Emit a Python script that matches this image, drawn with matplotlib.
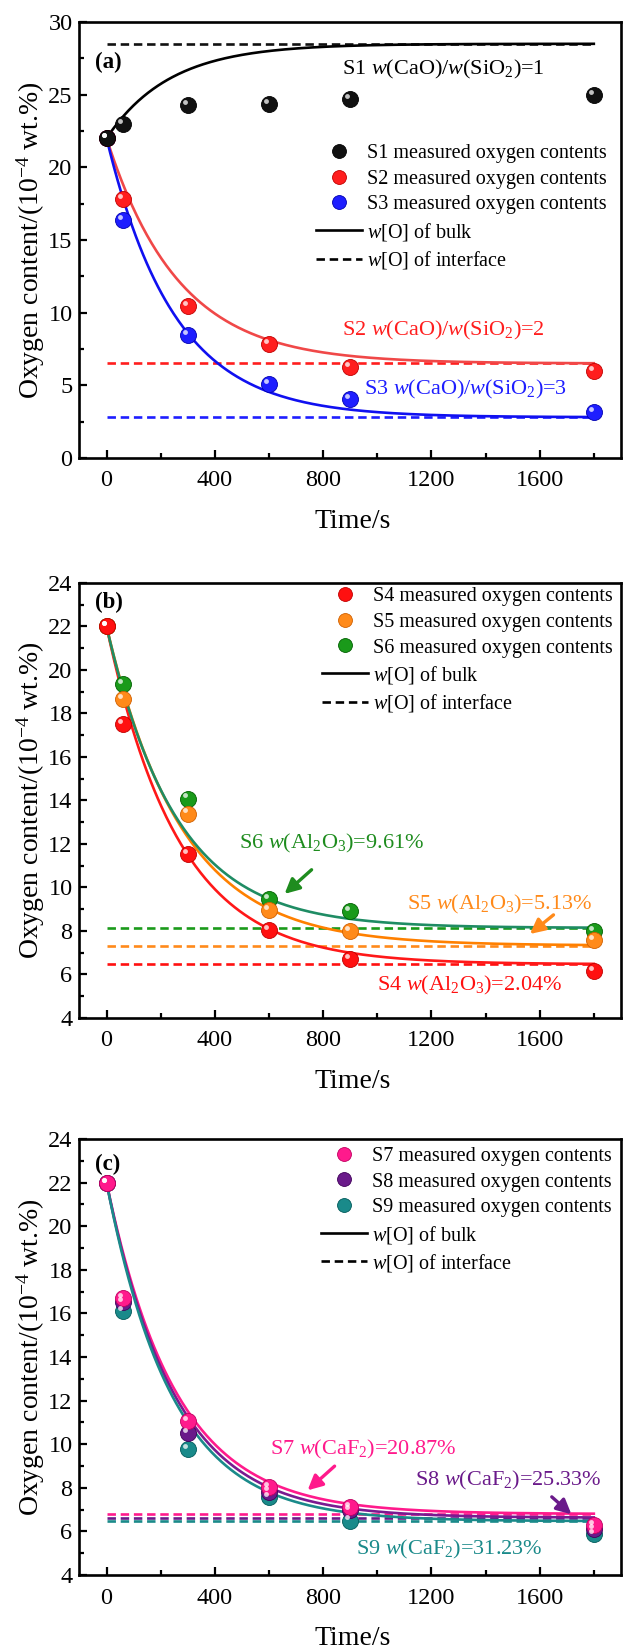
import numpy as np
import matplotlib
matplotlib.use("Agg")
import matplotlib.pyplot as plt
from matplotlib.lines import Line2D
from matplotlib.transforms import ScaledTranslation

plt.rcParams['font.family'] = ['Liberation Serif', 'DejaVu Serif']
plt.rcParams['mathtext.fontset'] = 'custom'
plt.rcParams['mathtext.rm'] = 'Liberation Serif'
plt.rcParams['mathtext.it'] = 'Liberation Serif:italic'
plt.rcParams['mathtext.bf'] = 'Liberation Serif:bold'

# sampling times (s)
t_meas = [0, 60, 300, 600, 900, 1800]

# panel (a) - basicity
s1 = [22.0, 23.0, 24.27, 24.36, 24.7, 25.0]
s2 = [22.0, 17.8, 10.46, 7.82, 6.28, 5.99]
s3 = [22.0, 16.38, 8.47, 5.07, 4.04, 3.19]
a_interface = [28.5, 6.5, 2.8]
a_rate = [0.00428, 0.00377, 0.0040]

# panel (b) - Al2O3
s4 = [22.0, 17.5, 11.52, 8.05, 6.73, 6.14]
s5 = [22.0, 18.67, 13.4, 8.98, 7.98, 7.57]
s6 = [22.0, 19.34, 14.09, 9.49, 8.9, 7.98]
b_interface = [6.47, 7.33, 8.14]
b_rate = [0.00376, 0.0036, 0.0039]

# panel (c) - CaF2
s7 = [22.0, 16.7, 11.08, 8.03, 7.13, 6.3]
s8 = [22.0, 16.53, 10.53, 7.83, 6.97, 6.13]
s9 = [22.0, 16.13, 9.8, 7.58, 6.5, 5.87]
c_interface = [6.8, 6.63, 6.47]
c_rate = [0.0039, 0.0040, 0.0041]

w0 = 22.0
t_end = 1800

fig = plt.figure(figsize=(6.23, 16.52), dpi=100)
ax_a = fig.add_axes([0.1276, 0.7228, 0.869, 0.2639])
ax_b = fig.add_axes([0.1276, 0.3838, 0.869, 0.2633])
ax_c = fig.add_axes([0.1276, 0.0466, 0.869, 0.2639])

t_fit = np.linspace(0, t_end, 400)


def ball(ax, x, y, color, edge):
    ax.plot(x, y, 'o', ms=11.5, color=color, mec=edge, mew=0.6, ls='none', zorder=5)
    shift = ax.transData + ScaledTranslation(-2.2 / 72, 2.2 / 72, fig.dpi_scale_trans)
    ax.plot(x, y, 'o', ms=3.5, color='white', alpha=0.75, mew=0, ls='none',
            transform=shift, zorder=6)


def style(ax, ylim, ymaj, ymin):
    ax.set_xlim(-100, 1900)
    ax.set_ylim(*ylim)
    ax.set_xticks(np.arange(0, 1601, 400))
    ax.set_xticks(np.arange(200, 1900, 400), minor=True)
    ax.set_yticks(np.arange(ylim[0], ylim[1] + 0.01, ymaj))
    ax.set_yticks(np.arange(ylim[0] + ymin, ylim[1], ymaj), minor=True)
    ax.tick_params(which='both', direction='in', top=False, right=False,
                   labelsize=17.5, width=1.6)
    ax.tick_params(which='major', length=6, pad=5)
    ax.tick_params(which='minor', length=3.5)
    ax.tick_params(axis='x', which='major', pad=9)
    for sp in ax.spines.values():
        sp.set_linewidth(1.9)
    ax.set_xlabel('Time/s', fontsize=20, va='center')
    ax.xaxis.set_label_coords(0.505, -0.145)
    ax.set_ylabel('Oxygen content/(10$^{-4}$ wt.%)', fontsize=20, va='center')
    ax.yaxis.set_label_coords(-0.09, 0.5)


def panel(ax, series, colors, edges, curve_colors, interface, rate, names, leg_pos):
    for lvl, k, cc in zip(interface, rate, curve_colors):
        ax.plot(t_fit, lvl + (w0 - lvl) * np.exp(-k * t_fit), color=cc, lw=1.9, zorder=3)
    for lvl, cc in zip(interface, colors):
        ax.hlines(lvl, 0, t_end, colors=cc, lw=1.9, linestyles=(0, (3.2, 1.8)), zorder=2)
    for y, c, e in list(zip(series, colors, edges))[::-1]:
        ball(ax, t_meas, y, c, e)
    handles = [Line2D([], [], marker='o', ms=10, color=c, mec=e, mew=0.6, ls='none')
               for c, e in zip(colors, edges)]
    handles += [Line2D([], [], color='black', lw=1.9),
                Line2D([], [], color='black', lw=1.9, ls=(0, (3.2, 1.8)))]
    labels = ['%s measured oxygen contents' % n for n in names]
    labels += ['$w$[O] of bulk', '$w$[O] of interface']
    ax.legend(handles, labels, loc='upper left', bbox_to_anchor=leg_pos, frameon=False,
              fontsize=14.5, handlelength=2.3, handletextpad=0.22, labelspacing=0.32,
              borderpad=0, borderaxespad=0)


# (a)
panel(ax_a, [s1, s2, s3], ['#111111', '#FF1E1E', '#1E1EFF'], ['#000000', '#C00000', '#0000B0'],
      ['#000000', '#F04848', '#1010F0'], a_interface, a_rate, ['S1', 'S2', 'S3'], (0.437, 0.72))
style(ax_a, (0, 30), 5, 2.5)
ax_a.text(0.028, 0.906, '(a)', transform=ax_a.transAxes, fontsize=16.5, fontweight='bold',
          va='center')
ax_a.text(0.485, 0.89, 'S1 $w$(CaO)/$w$(SiO$_2$)=1', transform=ax_a.transAxes,
          fontsize=16, color='black', va='center')
ax_a.text(0.485, 0.292, 'S2 $w$(CaO)/$w$(SiO$_2$)=2', transform=ax_a.transAxes,
          fontsize=16, color='#FF1E1E', va='center')
ax_a.text(0.525, 0.157, 'S3 $w$(CaO)/$w$(SiO$_2$)=3', transform=ax_a.transAxes,
          fontsize=16, color='#1E1EFF', va='center')

# (b)
panel(ax_b, [s4, s5, s6], ['#FF1010', '#FF8A1A', '#1A9A1A'], ['#C00000', '#D06000', '#006000'],
      ['#FF1818', '#FF8000', '#1F8C64'], b_interface, b_rate, ['S4', 'S5', 'S6'], (0.448, 0.99))
style(ax_b, (4, 24), 2, 1)
ax_b.text(0.028, 0.955, '(b)', transform=ax_b.transAxes, fontsize=16.5, fontweight='bold',
          va='center')
ax_b.text(0.295, 0.40, 'S6 $w$(Al$_2$O$_3$)=9.61%', transform=ax_b.transAxes,
          fontsize=16, color='#1E8C1E', va='center')
ax_b.text(0.605, 0.261, 'S5 $w$(Al$_2$O$_3$)=5.13%', transform=ax_b.transAxes,
          fontsize=16, color='#FF8A1A', va='center')
ax_b.text(0.55, 0.074, 'S4 $w$(Al$_2$O$_3$)=2.04%', transform=ax_b.transAxes,
          fontsize=16, color='#FF1010', va='center')
ax_b.annotate('', xy=(650, 9.62), xytext=(765, 10.9),
              arrowprops=dict(arrowstyle='-|>', color='#1E8C1E', lw=2.4, mutation_scale=22))
ax_b.annotate('', xy=(1556, 7.78), xytext=(1659, 8.82),
              arrowprops=dict(arrowstyle='-|>', color='#FF8A1A', lw=2.4, mutation_scale=22))

# (c)
panel(ax_c, [s7, s8, s9], ['#FF1A8C', '#6A1A8A', '#1A8A8A'], ['#C00060', '#40005A', '#005A5A'],
      ['#FF1A8C', '#7A1A90', '#1A8A8A'], c_interface, c_rate, ['S7', 'S8', 'S9'], (0.446, 0.982))
style(ax_c, (4, 24), 2, 1)
ax_c.text(0.028, 0.9415, '(c)', transform=ax_c.transAxes, fontsize=16.5, fontweight='bold',
          va='center')
ax_c.text(0.352, 0.288, 'S7 $w$(CaF$_2$)=20.87%', transform=ax_c.transAxes,
          fontsize=16, color='#FF1A8C', va='center')
ax_c.text(0.62, 0.217, 'S8 $w$(CaF$_2$)=25.33%', transform=ax_c.transAxes,
          fontsize=16, color='#6A1A8A', va='center')
ax_c.text(0.51, 0.058, 'S9 $w$(CaF$_2$)=31.23%', transform=ax_c.transAxes,
          fontsize=16, color='#1A8A8A', va='center')
ax_c.annotate('', xy=(735, 7.8), xytext=(850, 9.08),
              arrowprops=dict(arrowstyle='-|>', color='#FF1A8C', lw=2.4, mutation_scale=22))
ax_c.annotate('', xy=(1725, 6.7), xytext=(1637, 7.67),
              arrowprops=dict(arrowstyle='-|>', color='#6A1A8A', lw=2.4, mutation_scale=22))

fig.savefig('out.png', dpi=100)
